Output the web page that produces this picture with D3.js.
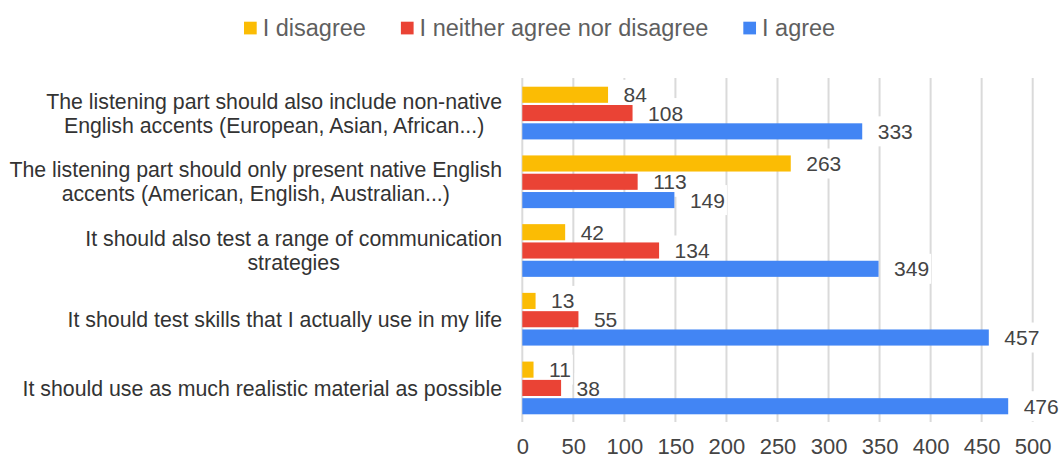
<!DOCTYPE html>
<html><head><meta charset="utf-8">
<script src="https://cdn.jsdelivr.net/npm/d3@7"></script>
<style>body{margin:0;background:#fff}svg{display:block;font-family:"Liberation Sans",Arial,sans-serif}</style>
</head><body><svg id="c" width="1061" height="459"></svg>
<script>
const categories = [
  ["The listening part should also include non-native","English accents (European, Asian, African...)"],
  ["The listening part should only present native English","accents (American, English, Australian...)"],
  ["It should also test a range of communication","strategies"],
  ["It should test skills that I actually use in my life"],
  ["It should use as much realistic material as possible"]
];
const seriesNames = ["I disagree","I neither agree nor disagree","I agree"];
const seriesColors = ["#FBBC04","#EA4335","#4285F4"];
const disagree = [84, 263, 42, 13, 11];
const neither = [108, 113, 134, 55, 38];
const agree = [333, 149, 349, 457, 476];
const xTicks = [0,50,100,150,200,250,300,350,400,450,500];

const series = [disagree, neither, agree];
const svg = d3.select("#c");
const x = d3.scaleLinear().domain([0,500]).range([522.3, 1032.7]);
const y = d3.scaleBand().domain(d3.range(categories.length)).range([78.7, 422.3]).paddingInner(0.233).paddingOuter(0.1165);
const ys = d3.scaleBand().domain(d3.range(3)).range([0, y.bandwidth()]).paddingInner(0.12);

// gridlines
svg.append("g").selectAll("line").data(xTicks).join("line")
  .attr("x1", d=>x(d)).attr("x2", d=>x(d)).attr("y1", 78).attr("y2", 422)
  .attr("stroke", "#dadada").attr("stroke-width", 2);

// axis labels
const xAxis = d3.axisBottom(x).tickValues(xTicks).tickSize(0).tickPadding(0);
const ax = svg.append("g").attr("transform", "translate(0,453.5)").call(xAxis);
ax.select(".domain").remove();
ax.selectAll("text").attr("font-size", 22).attr("fill", "#444").attr("font-family", "Liberation Sans, Arial, sans-serif").attr("dy", null).attr("y", 0);

const boxLayer = svg.append("g");
const barLayer = svg.append("g");
const labLayer = svg.append("g");

// bars + labels
series.forEach((vals, si) => {
  barLayer.append("g").selectAll("rect").data(vals).join("rect")
    .attr("x", x(0)).attr("y", (d,i)=>y(i)+ys(si))
    .attr("width", d=>x(d)-x(0)).attr("height", ys.bandwidth())
    .attr("fill", seriesColors[si]);
  const txt = labLayer.append("g").selectAll("text").data(vals).join("text")
    .attr("x", d=>x(d)+15.5).attr("y", (d,i)=>y(i)+ys(si)+ys.bandwidth()/2)
    .attr("dy", "0.36em").attr("font-size", 21).attr("fill", "#444").text(d=>d);
  txt.each(function(d,i){
    const b = this.getBBox();
    boxLayer.append("rect").attr("x", b.x-2).attr("y", y(i)+ys(si)+ys.bandwidth()/2-15)
      .attr("width", b.width+4).attr("height", 30).attr("fill", "#fff");
  });
});

// category labels
const cl = svg.append("g");
categories.forEach((lines, i) => {
  const cy = y(i) + y.bandwidth()/2;
  const lh = 24;
  const t = cl.append("text").attr("font-size", 21.3).attr("fill", "#333");
  lines.forEach((ln, j) => {
    t.append("tspan").attr("y", cy + (j - (lines.length-1)/2)*lh).attr("dy","0.36em").text(ln);
  });
  const spans = t.selectAll("tspan").nodes();
  const maxW = d3.max(spans, s=>s.getComputedTextLength());
  const right = 502;
  spans.forEach(s=>{ d3.select(s).attr("x", right - maxW/2).attr("text-anchor","middle"); });
});

// legend
const lg = svg.append("g");
let lx = 244;
seriesNames.forEach((n, i) => {
  lg.append("rect").attr("x", lx).attr("y", 21.7).attr("width", 12.7).attr("height", 12.7).attr("fill", seriesColors[i]);
  const t = lg.append("text").attr("x", lx + 18.7).attr("y", 35.7).attr("font-size", 23.5).attr("fill", "#5f5f5f").text(n);
  lx = lx + 18.7 + t.node().getComputedTextLength() + 35;
});
</script></body></html>
